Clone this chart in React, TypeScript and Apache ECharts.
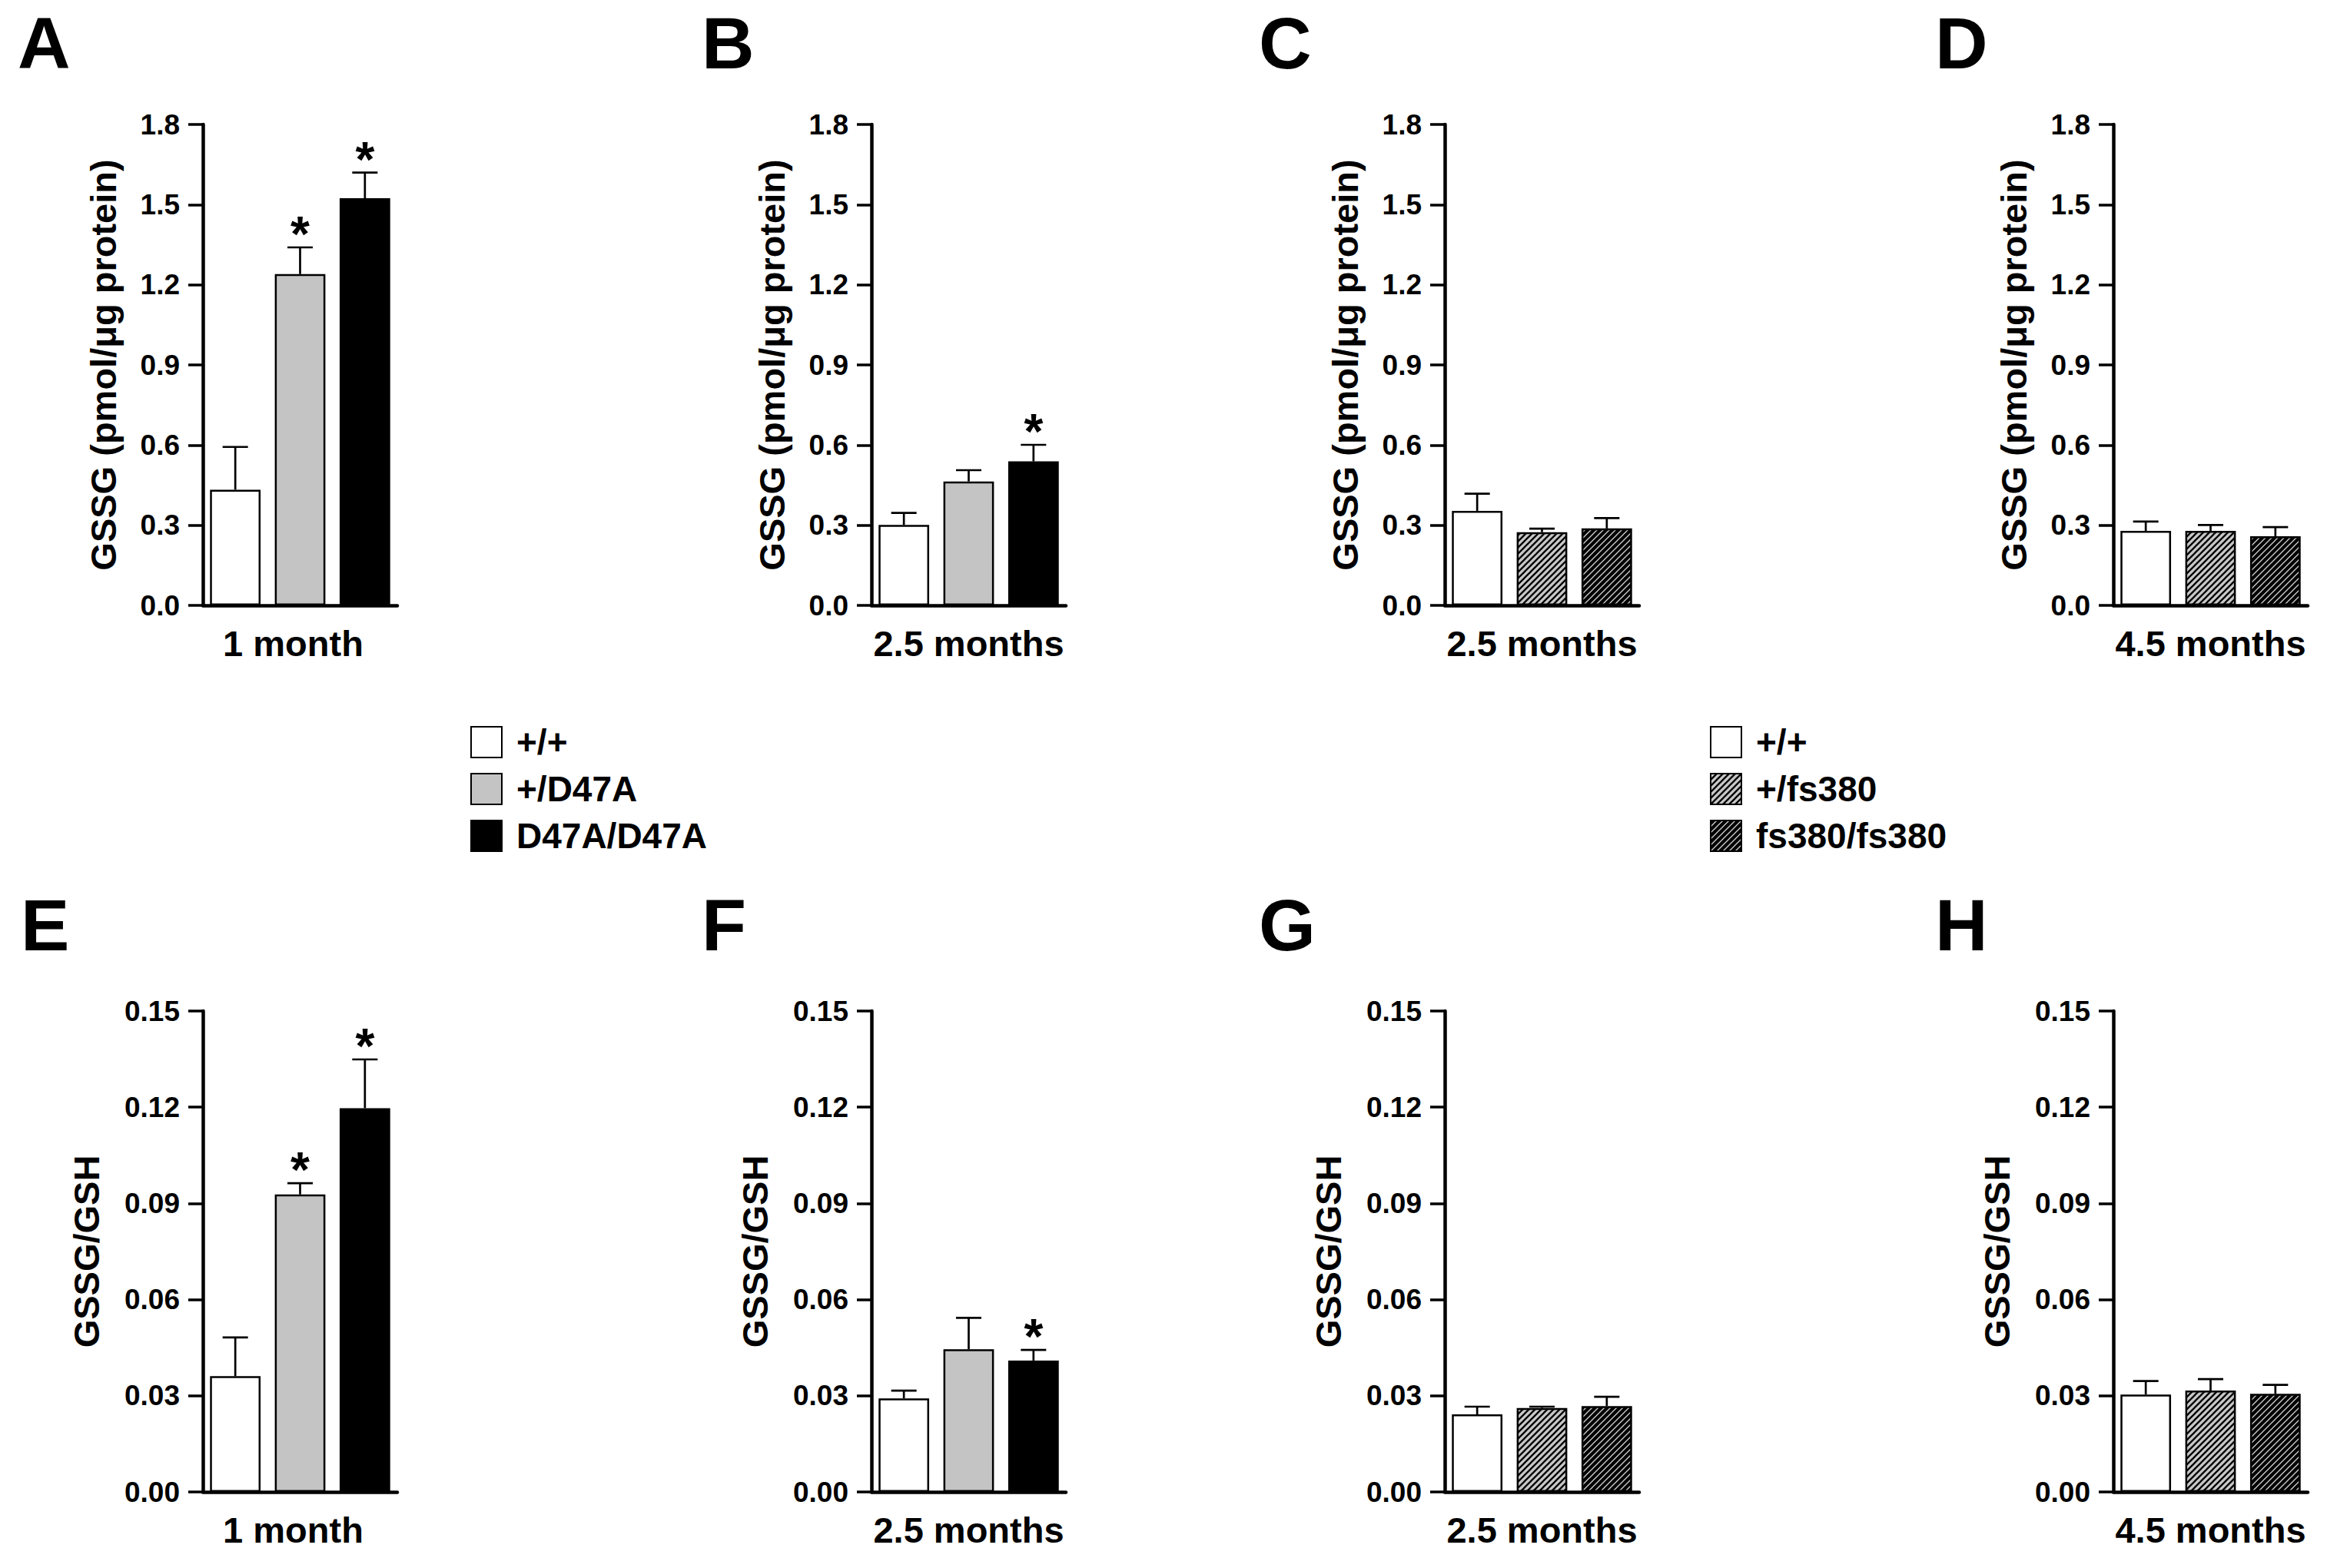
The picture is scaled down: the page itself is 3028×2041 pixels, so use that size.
import React, { useEffect, useRef } from "react";
import * as echarts from "echarts";

// ---------- data ----------
const groupsD47A = ["+/+", "+/D47A", "D47A/D47A"];
const groupsFs380 = ["+/+", "+/fs380", "fs380/fs380"];
const panelLetters = ["A", "B", "C", "D", "E", "F", "G", "H"];
const ageLabels = ["1 month", "2.5 months", "2.5 months", "4.5 months", "1 month", "2.5 months", "2.5 months", "4.5 months"];
const yTitleTop = "GSSG (pmol/\u03bcg protein)";
const yTitleBottom = "GSSG/GSH";

// GSSG (pmol/ug protein), panels A-D
const gssgMeans = [
  [0.433, 1.24, 1.524],
  [0.301, 0.464, 0.539],
  [0.354, 0.274, 0.288],
  [0.279, 0.279, 0.259],
];
const gssgSem = [
  [0.16, 0.1, 0.096],
  [0.045, 0.042, 0.062],
  [0.064, 0.013, 0.039],
  [0.035, 0.022, 0.034],
];
const gssgStars = [
  [0, 1, 1],
  [0, 0, 1],
  [0, 0, 0],
  [0, 0, 0],
];

// GSSG/GSH, panels E-H
const ratioMeans = [
  [0.0361, 0.0928, 0.1197],
  [0.0292, 0.0445, 0.041],
  [0.0242, 0.0262, 0.0268],
  [0.0304, 0.0316, 0.0306],
];
const ratioSem = [
  [0.0121, 0.0035, 0.0152],
  [0.0024, 0.0098, 0.0033],
  [0.0024, 0.0004, 0.0029],
  [0.0042, 0.0036, 0.0028],
];
const ratioStars = [
  [0, 1, 1],
  [0, 0, 1],
  [0, 0, 0],
  [0, 0, 0],
];

const gssgTicks = [0, 0.3, 0.6, 0.9, 1.2, 1.5, 1.8];
const ratioTicks = [0, 0.03, 0.06, 0.09, 0.12, 0.15];

// ---------- layout / style ----------
const FONT = '"Liberation Sans", Arial, Helvetica, sans-serif';
const gridLefts = [264, 1134, 1880, 2750];
const gridTops = [162, 1316];
const gridW = 253;
const gridH = 626;
const letterX = [23, 913, 1638, 2518, 27, 913, 1638, 2518];
const letterY = [8, 8, 8, 8, 1156, 1156, 1156, 1156];

function hatch(bg: string, fg: string, w: number) {
  const svg =
    `<svg xmlns='http://www.w3.org/2000/svg' width='8' height='8'>` +
    `<rect width='8' height='8' fill='${bg}'/>` +
    `<path d='M-2,2 L2,-2 M0,8 L8,0 M6,10 L10,6' stroke='${fg}' stroke-width='${w}'/></svg>`;
  return {
    image: "data:image/svg+xml;charset=utf-8," + encodeURIComponent(svg),
    repeat: "repeat",
    imageWidth: 8,
    imageHeight: 8,
  };
}

export default function App() {
  const ref = useRef<HTMLDivElement>(null);

  useEffect(() => {
    if (!ref.current) return;
    const chart = echarts.init(ref.current, undefined, { renderer: "svg" });

    const grayHatch = hatch("#c8c8c8", "#000", 2.3);
    const darkHatch = hatch("#000", "#d4d4d4", 1.3);
    const colorsD47A: any[] = ["#ffffff", "#c4c4c4", "#000000"];
    const colorsFs: any[] = ["#ffffff", grayHatch, darkHatch];

    const grids: any[] = [];
    const xAxes: any[] = [];
    const yAxes: any[] = [];
    const series: any[] = [];

    for (let p = 0; p < 8; p++) {
      const row = p < 4 ? 0 : 1;
      const col = p % 4;
      const groups = col < 2 ? groupsD47A : groupsFs380;
      const colors = col < 2 ? colorsD47A : colorsFs;
      const means = row === 0 ? gssgMeans[col] : ratioMeans[col];
      const sems = row === 0 ? gssgSem[col] : ratioSem[col];
      const stars = row === 0 ? gssgStars[col] : ratioStars[col];
      const ticks = row === 0 ? gssgTicks : ratioTicks;
      const dec = row === 0 ? 1 : 2;

      grids.push({ left: gridLefts[col], top: gridTops[row], width: gridW, height: gridH });

      xAxes.push({
        type: "category",
        gridIndex: p,
        data: groups,
        axisLine: { lineStyle: { color: "#000", width: 4.5 } },
        axisTick: { show: false },
        axisLabel: { show: false },
        name: ageLabels[p],
        nameLocation: "middle",
        nameGap: 26,
        nameTextStyle: {
          fontSize: 47,
          fontWeight: "bold",
          fontFamily: FONT,
          color: "#000",
          padding: col === 0 ? [0, 18, 0, 0] : 0,
        },
      });

      yAxes.push({
        type: "value",
        gridIndex: p,
        min: ticks[0],
        max: ticks[ticks.length - 1],
        interval: ticks[1] - ticks[0],
        splitLine: { show: false },
        axisLine: { show: true, lineStyle: { color: "#000", width: 4.5 } },
        axisTick: { show: true, length: 19, lineStyle: { color: "#000", width: 3.5 } },
        axisLabel: {
          margin: 30,
          fontSize: 37,
          fontWeight: "bold",
          fontFamily: FONT,
          color: "#000",
          formatter: (v: number) => v.toFixed(dec),
        },
        name: row === 0 ? yTitleTop : yTitleBottom,
        nameLocation: "middle",
        nameRotate: 90,
        nameGap: row === 0 ? 106 : 128,
        nameTextStyle: { fontSize: 47, fontWeight: "bold", fontFamily: FONT, color: "#000" },
      });

      groups.forEach((g, gi) => {
        series.push({
          type: "bar",
          name: g,
          xAxisIndex: p,
          yAxisIndex: p,
          stack: "s" + p,
          barWidth: "78%",
          silent: true,
          data: [0, 1, 2].map((i) => (i === gi ? means[i] : "-")),
          itemStyle: { color: colors[gi], borderColor: "#000", borderWidth: 2.5 },
        });
      });

      series.push({
        type: "custom",
        xAxisIndex: p,
        yAxisIndex: p,
        silent: true,
        z: 10,
        data: means.map((m, i) => [i, m, m + sems[i], stars[i]]),
        renderItem: (params: any, api: any) => {
          const i = api.value(0);
          const m = api.value(1);
          const hi = api.value(2);
          const st = api.value(3);
          const p0 = api.coord([i, m]);
          const p1 = api.coord([i, hi]);
          const cw = 16.5;
          const children: any[] = [
            {
              type: "line",
              shape: { x1: p0[0], y1: p0[1], x2: p1[0], y2: p1[1] },
              style: { stroke: "#000", lineWidth: 2.7 },
            },
            {
              type: "line",
              shape: { x1: p1[0] - cw, y1: p1[1], x2: p1[0] + cw, y2: p1[1] },
              style: { stroke: "#000", lineWidth: 2.7 },
            },
          ];
          if (st) {
            children.push({
              type: "text",
              x: p1[0],
              y: p1[1] - 17,
              style: {
                text: "*",
                textAlign: "center",
                textVerticalAlign: "middle",
                font: `bold 64px ${FONT}`,
                fill: "#000",
              },
            });
          }
          return { type: "group", children };
        },
      });
    }

    const legendCommon = {
      top: 943,
      orient: "vertical",
      icon: "rect",
      itemWidth: 40,
      itemHeight: 40,
      itemGap: 15,
      padding: 0,
      selectedMode: false,
      textStyle: {
        fontSize: 46,
        fontWeight: "bold",
        fontFamily: FONT,
        color: "#000",
        lineHeight: 40,
        padding: [0, 0, 0, 14],
      },
    };

    chart.setOption({
      animation: false,
      backgroundColor: "#ffffff",
      grid: grids,
      xAxis: xAxes,
      yAxis: yAxes,
      series,
      legend: [
        { ...legendCommon, left: 612, data: groupsD47A },
        { ...legendCommon, left: 2225, data: groupsFs380 },
      ],
      graphic: panelLetters.map((L, p) => ({
        type: "text",
        left: letterX[p],
        top: letterY[p],
        style: { text: L, font: `bold 95px ${FONT}`, fill: "#000" },
      })),
    });

    return () => chart.dispose();
  }, []);

  return (
    <div
      ref={ref}
      style={{ position: "fixed", left: 0, top: 0, width: 3028, height: 2041, background: "#fff" }}
    />
  );
}
